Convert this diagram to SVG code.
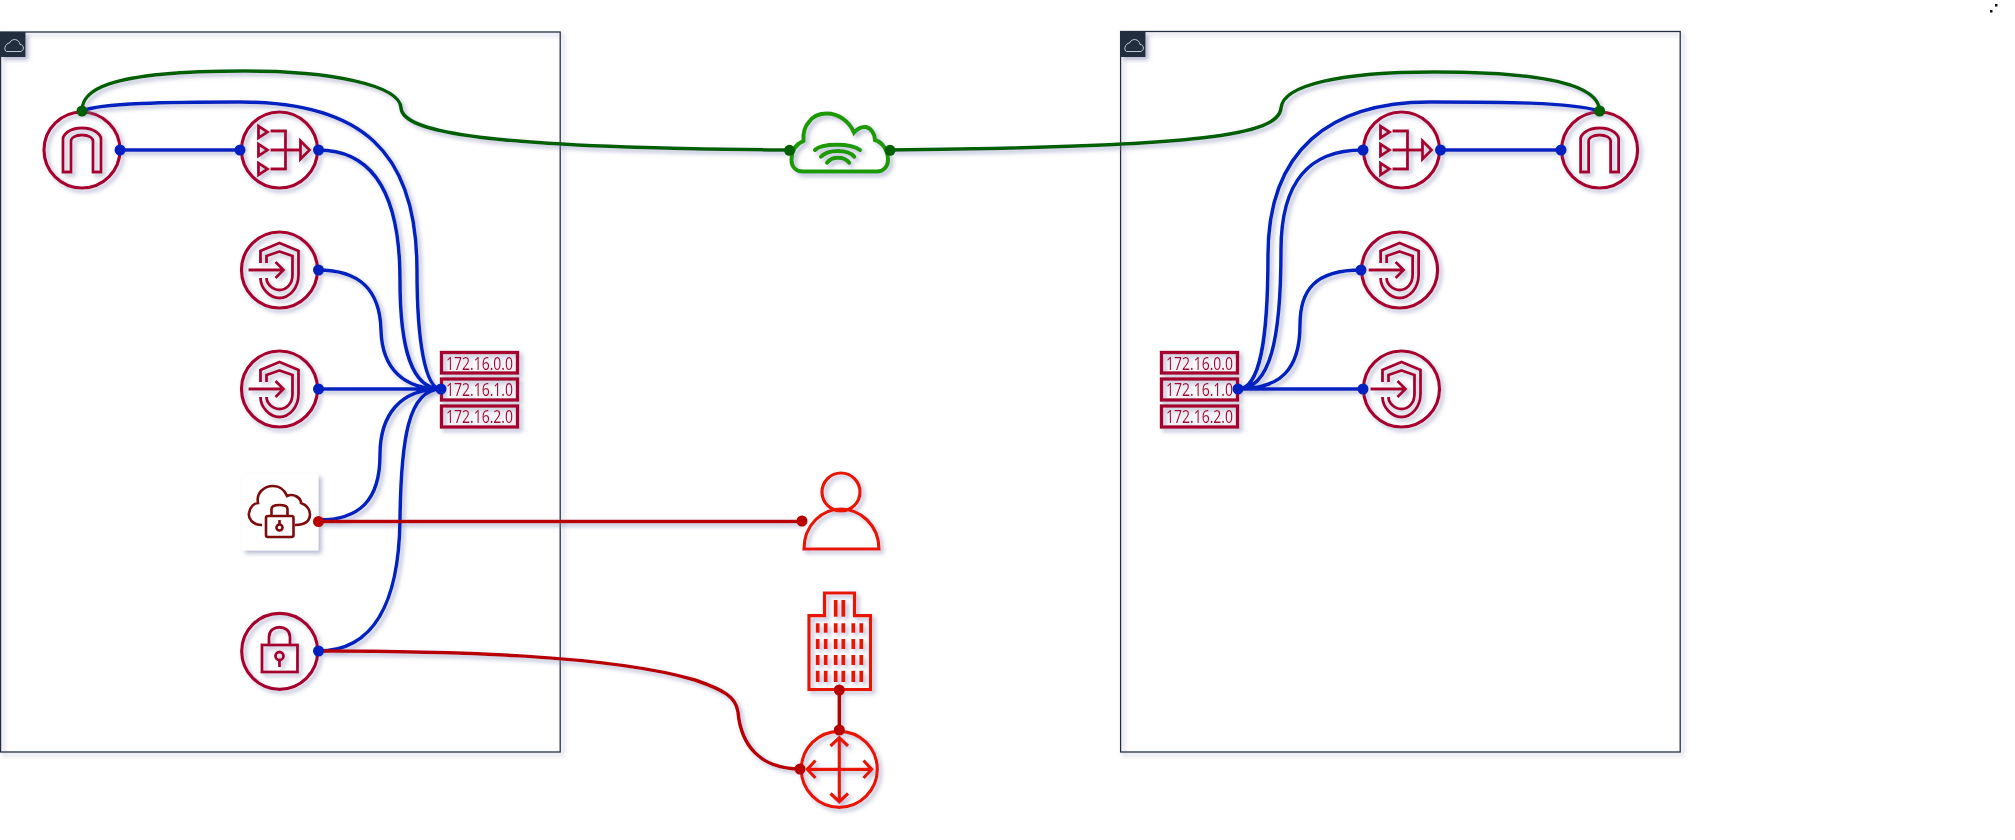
<svg xmlns="http://www.w3.org/2000/svg" xmlns:xlink="http://www.w3.org/1999/xlink" width="2015" height="840" viewBox="0 0 2015 840">
<style>
.sh{filter:url(#ds)}
.box{fill:none;stroke:#232f3e;stroke-width:1.3}
.badge{fill:#232f3e}
.cl{fill:none;stroke:#c3c9d3;stroke-width:1}
.ci{fill:none;stroke:#a8002f;stroke-width:3.200}
.ic{fill:none;stroke:#a8002f;stroke-width:2.800;stroke-linejoin:miter}
.sub{fill:none;stroke:#a8002f;stroke-width:3.400}
.t{font-family:"Open Sans","Liberation Sans",sans-serif;font-size:18px;fill:#a8002f;text-anchor:middle}
.rd{fill:none;stroke:#e81500;stroke-width:3.200}
.gr{fill:none;stroke:#1f9a00;stroke-width:4;stroke-linecap:round}
.vp{fill:none;stroke:#7d0a0a;stroke-width:2.600}
.lb{fill:none;stroke:#0020c0;stroke-width:3.500}
.lr{fill:none;stroke:#b80000;stroke-width:3.500}
.lg{fill:none;stroke:#006000;stroke-width:3.500}
.db{fill:#0020c0}.dr{fill:#b80000}.dg{fill:#006000}
</style>
<defs>
<filter id="ds" x="-20%" y="-20%" width="150%" height="150%"><feDropShadow dx="3" dy="3" stdDeviation="2" flood-color="#7c82ad" flood-opacity=".55"/></filter>
<g id="igw"><circle class="ci" r="38"/><path class="ic" d="M-19 22V-11C-19-15-13-22 0-22C13-22 19-15 19-11V22H11V-9C11-12 7-15 0-15C-7-15-11-12-11-9V22Z"/></g>
<g id="nlb"><circle class="ci" r="38"/><path class="ic" d="M-21-24V-12L-12-18ZM-21-6V6L-12 0ZM-21 13V25L-12 19ZM-9-19H6V19H-9M-9 0H21M21-9V9L30 0Z"/></g>
<g id="shd"><circle class="ci" r="38"/><path class="ic" d="M-31 0H3M-4-8L4 0L-4 8M-19-7V-19L0-27L19-19V5C19 18 10 28 0 28C-10 28-19 18-19 8M-13-7V-14L0-18.500L13-14V5C13 14 7 20 0 20C-7 20-13 14-13 8"/></g>
</defs>
<g id="vpc-left" class="sh"><rect class="box" x="0.600" y="32" width="559.600" height="720"/><rect class="badge" x="0" y="32" width="25.500" height="25"/><path class="cl" d="M7 51.500H20C24.500 51.500 24.500 44.500 20 44.500C19.500 39 12 37.500 9.500 43C5 43 3 51.500 7 51.500Z"/></g>
<g id="vpc-right" class="sh"><rect class="box" x="1120.600" y="31.500" width="559.600" height="720.500"/><rect class="badge" x="1120" y="32" width="25.500" height="25"/><path class="cl" d="M1127 51.500H1140C1144.500 51.500 1144.500 44.500 1140 44.500C1139.500 39 1132 37.500 1129.500 43C1125 43 1123 51.500 1127 51.500Z"/></g>
<g id="igw-left" class="sh"><use xlink:href="#igw" href="#igw" x="82" y="150"/></g>
<g id="nlb-left" class="sh"><use xlink:href="#nlb" href="#nlb" x="279.500" y="150"/></g>
<g id="shield-left-1" class="sh"><use xlink:href="#shd" href="#shd" x="279.500" y="270"/></g>
<g id="shield-left-2" class="sh"><use xlink:href="#shd" href="#shd" x="279.500" y="389"/></g>
<g id="subnets-left" class="sh"><rect class="sub" x="441.500" y="352.500" width="76" height="20.500"/><rect class="sub" x="441.500" y="379" width="76" height="21"/><rect class="sub" x="441.500" y="406" width="76" height="21"/><text class="t" x="479.500" y="369.500" textLength="67" lengthAdjust="spacingAndGlyphs">172.16.0.0</text><text class="t" x="479.500" y="396" textLength="67" lengthAdjust="spacingAndGlyphs">172.16.1.0</text><text class="t" x="479.500" y="423" textLength="67" lengthAdjust="spacingAndGlyphs">172.16.2.0</text></g>
<g id="vpn-gateway" class="sh"><rect x="242" y="474" width="76.500" height="76.500" fill="#fff"/><path class="vp" d="M262 525C252 525 248 518 249 513C250 506 255 503 258 503C256 493 264 486 273 486C281 486 285 491 287 496C294 493 301 498 301 503C307 505 310 510 310 514C310 521 305 525 295 525"/><rect class="vp" x="266" y="516" width="27.500" height="21" rx="2"/><path class="vp" d="M271.500 516V509C271.500 506 274 505 279.500 505C285 505 287.500 506 287.500 509V516"/><circle class="vp" cx="279.500" cy="527.500" r="3"/><path class="vp" d="M279.500 524V520"/></g>
<g id="vpn-endpoint" class="sh"><circle class="ci" cx="279.700" cy="651.300" r="38"/><rect class="ic" x="262" y="645" width="35.500" height="27"/><path class="ic" d="M269 645V637C269 624 290 624 290 637V645"/><circle class="ic" cx="279.500" cy="656" r="4"/><path class="ic" d="M279.500 660V667"/></g>
<g id="igw-right" class="sh"><use xlink:href="#igw" href="#igw" x="1599.600" y="150"/></g>
<g id="nlb-right" class="sh"><use xlink:href="#nlb" href="#nlb" x="1401.500" y="150"/></g>
<g id="shield-right-1" class="sh"><use xlink:href="#shd" href="#shd" x="1399.600" y="270"/></g>
<g id="shield-right-2" class="sh"><use xlink:href="#shd" href="#shd" x="1401.500" y="389"/></g>
<g id="subnets-right" class="sh"><rect class="sub" x="1161.500" y="352.500" width="76" height="20.500"/><rect class="sub" x="1161.500" y="379" width="76" height="21"/><rect class="sub" x="1161.500" y="406" width="76" height="21"/><text class="t" x="1199.500" y="369.500" textLength="67" lengthAdjust="spacingAndGlyphs">172.16.0.0</text><text class="t" x="1199.500" y="396" textLength="67" lengthAdjust="spacingAndGlyphs">172.16.1.0</text><text class="t" x="1199.500" y="423" textLength="67" lengthAdjust="spacingAndGlyphs">172.16.2.0</text></g>
<g id="internet-cloud" class="sh"><path class="gr" d="M803 171.500C795 171.500 791.500 166 791.500 160C791.500 150 796 144 803.500 141C803 133 804 127 809 122C813 116 820 113.500 827 113.500C838 113.500 849 121 854 132.500C858 128 862 126.500 866 127C871 128 875 134 875 140C882 142 888 150 888 160C888 166 884 171.500 877 171.500Z"/><path class="gr" d="M815 150C822 143 851 143 860 150M821 156.700C828 149 848 149 854.300 156.700M827 162.700C832 156 844 156 849.300 162.700"/></g>
<g id="user" class="sh"><circle class="rd" cx="841" cy="492" r="19"/><path class="rd" d="M804 549C804 525 822 509 841 509C860 509 879 525 879 549Z"/></g>
<g id="building" class="sh"><path class="rd" d="M824.500 615.700V593H854.500V615.700H870.500V689.500H809V615.700Z"/><path class="rd" style="stroke-width:3.800" d="M835.700 600V616.700M843.300 600V616.700M817.700 623.300V632.700M825.700 623.300V632.700M835.700 623.300V632.700M843.300 623.300V632.700M853.300 623.300V632.700M861.300 623.300V632.700M817.700 639V649M825.700 639V649M835.700 639V649M843.300 639V649M853.300 639V649M861.300 639V649M817.700 655V665M825.700 655V665M835.700 655V665M843.300 655V665M853.300 655V665M861.300 655V665M817.700 670.700V682M825.700 670.700V682M835.700 670.700V682M843.300 670.700V682M853.300 670.700V682M861.300 670.700V682"/></g>
<g id="router" class="sh"><circle class="rd" cx="839.300" cy="769.300" r="38"/><path class="rd" d="M807.300 769.300H871.700M839.300 737.700V801.700M815.500 760.500L807.300 769.300L815.500 778M863.500 760.500L871.700 769.300L863.500 778M830.500 746L839.300 737.700L848 746M830.500 793.500L839.300 801.700L848 793.500"/></g>
<g id="connectors">
<g class="sh">
<path class="lb" d="M120 150H240M82 111C100 103 170 102 240 102C360 102 417 150 417 270C417 340 425 389 441 389M318 150C370 150 400 190 400 280C400 350 412 389 441 389M318 270C360 270 380 290 381 330C382 370 405 389 441 389M318 389H441M318 520C360 520 380 500 380 455C380 415 400 389 441 389M318 651C375 651 399 600 400 520C401 440 408 389 441 389"/>
<path class="lb" d="M1440 150H1561M1238 389C1260 389 1268 340 1268 255C1268 150 1330 102 1430 102C1500 102 1570 102 1599.600 111M1238 389C1270 389 1281 340 1281 250C1281 180 1310 150 1363 150M1238 389C1280 389 1300 370 1300 325C1300 290 1315 270 1361 270M1238 389H1363"/>
<path class="lr" d="M318.500 521.500H802M318 651C450 651 610 655 695 680C724 690 736 697 738 712C741 745 760 769 800 769M839.300 690V730"/>
<path class="lg" d="M82 111C82 92 100 71 245 71C330 71 400 85 401 108C403 132 480 148 789 150M890 150C1200 147 1279 135 1281 108C1283 85 1340 72 1434 72C1545 72 1599 85 1599.600 111"/>
</g>
<circle class="db" cx="120" cy="150" r="5.500"/><circle class="db" cx="240" cy="150" r="5.500"/><circle class="db" cx="318.500" cy="150" r="5.500"/><circle class="db" cx="318.500" cy="270" r="5.500"/><circle class="db" cx="318.500" cy="389" r="5.500"/><circle class="db" cx="441" cy="389" r="5.500"/><circle class="db" cx="318.500" cy="651" r="5.500"/>
<circle class="db" cx="1363" cy="150" r="5.500"/><circle class="db" cx="1440.500" cy="150" r="5.500"/><circle class="db" cx="1561" cy="150" r="5.500"/><circle class="db" cx="1361" cy="270" r="5.500"/><circle class="db" cx="1363" cy="389" r="5.500"/><circle class="db" cx="1238" cy="389" r="5.500"/>
<circle class="dr" cx="318.500" cy="521.500" r="5.500"/><circle class="dr" cx="802" cy="521" r="5.500"/><circle class="dr" cx="800" cy="769" r="5.500"/><circle class="dr" cx="839.300" cy="690" r="5.500"/><circle class="dr" cx="839.300" cy="730" r="5.500"/>
<circle class="dg" cx="82" cy="111" r="5.500"/><circle class="dg" cx="1599.600" cy="111" r="5.500"/><circle class="dg" cx="789.500" cy="150.300" r="5.500"/><circle class="dg" cx="890" cy="150.300" r="5.500"/>
</g>
<g id="marks" fill="#111"><rect x="1995" y="4" width="2.500" height="2.500"/><rect x="1990" y="10" width="2.500" height="2.500"/></g>
</svg>
